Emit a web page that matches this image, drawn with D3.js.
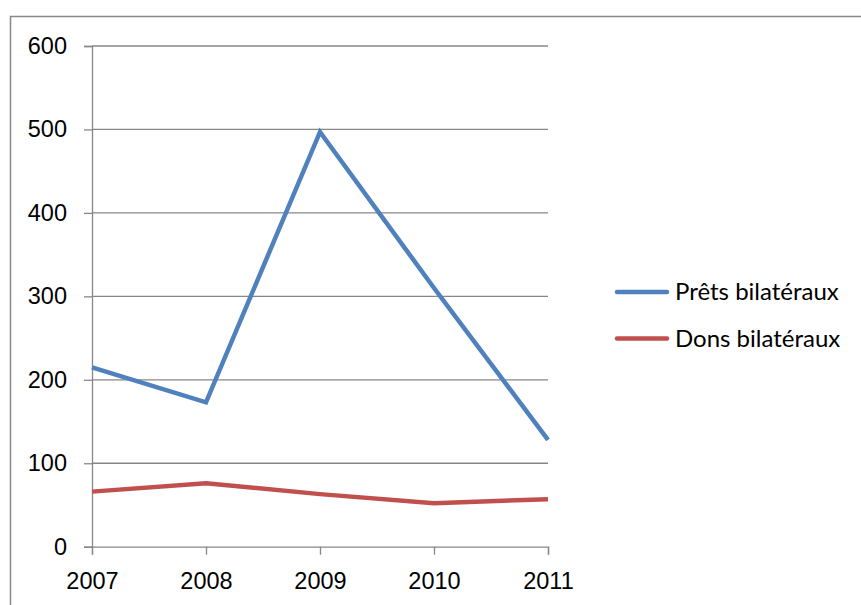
<!DOCTYPE html>
<html lang="fr">
<head>
<meta charset="UTF-8">
<title>Prêts et dons bilatéraux</title>
<style>
    body { margin: 0; background: #fff; }
    svg { display: block; font-family: Lato, "Open Sans", sans-serif; }
    .tick text { fill: #000; }
</style>
</head>
<body>
<svg id="chart"></svg>
<script src="https://unpkg.com/d3@7.8.2/dist/d3.min.js"></script>
<script>
    const years = ['2007', '2008', '2009', '2010', '2011']
    const prets = [215, 173, 497, 310, 128]
    const dons = [66, 76, 63, 52, 57]
    const yTicks = [0, 100, 200, 300, 400, 500, 600]

    const series = [
        { name: 'Prêts bilatéraux', values: prets, color: '#4F81BD' },
        { name: 'Dons bilatéraux', values: dons, color: '#C0504D' },
    ]

    const W = 861, H = 605
    const svg = d3.select('#chart').attr('width', W).attr('height', H)

    // outer chart frame, runs off the right and bottom of the picture
    svg.append('rect')
        .attr('x', 10.5).attr('y', 16.5)
        .attr('width', 900).attr('height', 700)
        .attr('fill', 'none').attr('stroke', '#888').attr('stroke-width', 1.5)

    const x = d3.scalePoint().domain(years).range([92, 548])
    const y = d3.scaleLinear().domain([0, 600]).range([546.7, 46])

    // gridlines
    svg.append('g')
        .selectAll('line').data(yTicks.slice(1)).enter().append('line')
        .attr('x1', 92).attr('x2', 548)
        .attr('y1', d => y(d)).attr('y2', d => y(d))
        .attr('stroke', '#878787').attr('stroke-width', 1.3)

    const yAxis = svg.append('g')
        .attr('transform', 'translate(92,0)')
        .call(d3.axisLeft(y).tickValues(yTicks).tickSize(8).tickPadding(17))
    yAxis.selectAll('text').attr('font-size', 23.5)

    const xAxis = svg.append('g')
        .attr('transform', `translate(0,${y(0)})`)
        .call(d3.axisBottom(x).tickSize(8).tickPadding(18))
    xAxis.selectAll('text').attr('font-size', 23.5)

    svg.selectAll('.domain, .tick line').attr('stroke', '#878787').attr('stroke-width', 1.3)

    const line = d3.line()
        .x((d, i) => x(years[i]))
        .y(d => y(d))

    svg.append('g').selectAll('path').data(series).enter().append('path')
        .attr('d', d => line(d.values))
        .attr('fill', 'none')
        .attr('stroke', d => d.color)
        .attr('stroke-width', 4.5)
        .attr('stroke-linejoin', 'miter')

    // legend
    const legend = svg.append('g').selectAll('g').data(series).enter().append('g')
        .attr('transform', (d, i) => `translate(615,${292 + i * 46.5})`)
    legend.append('line')
        .attr('x1', 2).attr('x2', 52)
        .attr('stroke', d => d.color).attr('stroke-width', 4.5)
        .attr('stroke-linecap', 'round')
    legend.append('text')
        .attr('x', 60).attr('dy', '0.35em')
        .attr('font-size', 24)
        .text(d => d.name)
</script>
</body>
</html>
